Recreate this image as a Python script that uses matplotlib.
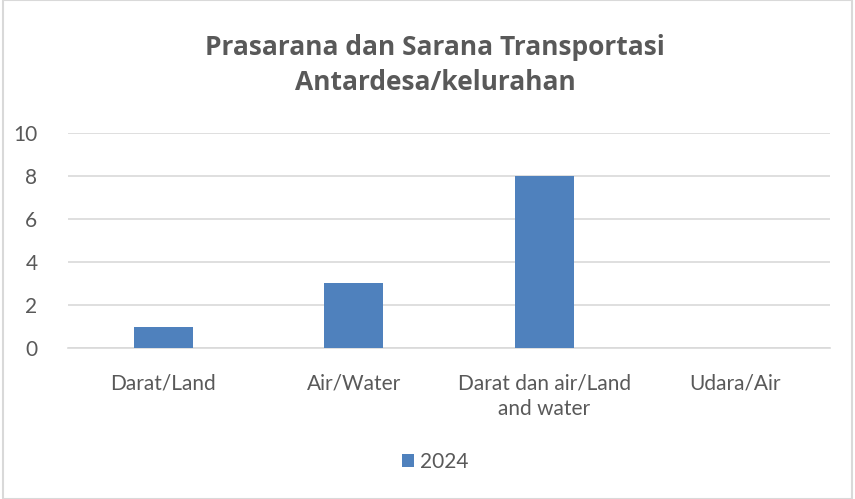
import matplotlib.pyplot as plt
from matplotlib.patches import Rectangle

plt.rcParams['font.family'] = ['Lato', 'DejaVu Sans']

categories = ['Darat/Land', 'Air/Water', 'Darat dan air/Land\nand water', 'Udara/Air']
values_2024 = [1, 3, 8, 0]
series_name = '2024'
title = 'Prasarana dan Sarana Transportasi\nAntardesa/kelurahan'

fig = plt.figure(figsize=(8.55, 4.99), dpi=100)
ax = fig.add_axes([0.0795, 0.3026, 0.8915, 0.4309])

x = range(len(categories))
ax.bar(x, values_2024, width=0.31, color='#4F81BD', label=series_name, zorder=3)

ax.set_xlim(-0.5, len(categories) - 0.5)
ax.set_ylim(0, 10)
ax.set_yticks([0, 2, 4, 6, 8, 10])
ax.set_xticks(list(x))
ax.set_xticklabels(categories, linespacing=1.4)
ax.tick_params(axis='x', length=0, pad=18, labelsize=15, colors='#595959')
ax.tick_params(axis='y', length=0, pad=22, labelsize=15, colors='#595959')
ax.grid(axis='y', color='#D9D9D9', linewidth=1.2, zorder=0)
for s in ['top', 'right', 'left']:
    ax.spines[s].set_visible(False)
ax.spines['bottom'].set_color('#D9D9D9')
ax.spines['bottom'].set_linewidth(1.2)

fig.text(0.509, 0.870, title, ha='center', va='center', fontsize=19,
         fontweight='bold', family=['Open Sans', 'DejaVu Sans'],
         color='#595959', linespacing=1.4)

fig.legend(loc='center', bbox_to_anchor=(0.509, 0.074), frameon=False,
           fontsize=15, handlelength=0.6, handleheight=0.6, handletextpad=0.3,
           labelcolor='#595959')

fig.patches.append(Rectangle((0.004, 0.0), 0.992, 1, transform=fig.transFigure,
                             fill=False, edgecolor='#D9D9D9', linewidth=1.5))

fig.savefig('out.png', dpi=100)
